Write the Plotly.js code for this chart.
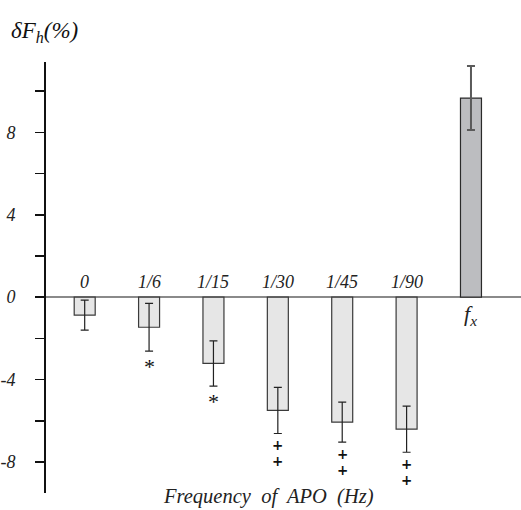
<!DOCTYPE html>
<html>
<head>
<meta charset="utf-8">
<script src="https://cdn.plot.ly/plotly-3.0.1.min.js"></script>
<style>html,body{margin:0;padding:0;background:#fff;}#chart{width:521px;height:510px;}</style>
</head>
<body>
<div id="chart"></div>
<script>
var categories = ['0', '1/6', '1/15', '1/30', '1/45', '1/90'];
var values = [-0.87, -1.46, -3.22, -5.5, -6.07, -6.41];
var errors = [0.73, 1.16, 1.1, 1.12, 0.97, 1.12];
var sigMarks = ['', '*', '*', '++', '++', '++'];
var fxLabel = 'f<sub>x</sub>';
var fxValue = [9.67];
var fxError = [1.55];
var yTickVals = [-8, -4, 0, 4, 8];
var yTickText = ['-8', '-4', '0', '4', '8'];
var yMinorVals = [-6, -2, 2, 6, 10];

var serif = '"Liberation Serif", serif';
var idx = categories.map(function (c, i) { return i; });
var fxIdx = [categories.length];

var traces = [
  {
    type: 'bar', x: idx, y: values, width: 0.326,
    marker: {color: '#e6e6e6', line: {color: '#3a3a3a', width: 1.2}},
    error_y: {type: 'data', array: errors, visible: true, color: '#222', thickness: 1.2, width: 4},
    hoverinfo: 'skip'
  },
  {
    type: 'bar', x: fxIdx, y: fxValue, width: 0.326,
    marker: {color: '#bcbdc0', line: {color: '#2a2a2a', width: 1.2}},
    error_y: {type: 'data', array: fxError, visible: true, color: '#5a5a5a', thickness: 2, width: 4},
    hoverinfo: 'skip'
  }
];

var annotations = [];
categories.forEach(function (c, i) {
  annotations.push({x: i, y: 0, xref: 'x', yref: 'y', text: c, showarrow: false,
    yanchor: 'bottom', yshift: 3, font: {family: serif, size: 18, style: 'italic', color: '#222'}});
  var m = sigMarks[i];
  for (var k = 0; k < m.length; k++) {
    var ch = m[k];
    var isStar = ch === '*';
    annotations.push({x: i, y: values[i] - errors[i], xref: 'x', yref: 'y', text: ch, showarrow: false,
      borderpad: 0, yanchor: 'middle', yshift: isStar ? -15 : -(12 + 16 * k),
      font: isStar ? {family: serif, size: 22, color: '#111'}
                   : {family: '"DejaVu Sans", sans-serif', size: 13.5, weight: 'bold', color: '#111'}});
  }
});
annotations.push({x: fxIdx[0], y: 0, xref: 'x', yref: 'y', text: fxLabel, showarrow: false,
  yanchor: 'top', yshift: -2, font: {family: serif, size: 22, style: 'italic', color: '#222'}});
annotations.push({x: 0.468, y: 0, xref: 'paper', yref: 'paper', text: 'Frequency  of  APO  (Hz)', showarrow: false,
  borderpad: 0, xanchor: 'center', yanchor: 'bottom', yshift: -16, font: {family: serif, size: 20.5, style: 'italic', color: '#222'}});
annotations.push({x: -0.078, y: 1, xref: 'paper', yref: 'paper', text: 'δF<sub>h</sub>(%)', showarrow: false,
  xanchor: 'left', yanchor: 'middle', yshift: 30, font: {family: serif, size: 23, style: 'italic', color: '#111'}});

var layout = {
  width: 521, height: 510,
  margin: {l: 46, r: 0, t: 62, b: 17},
  paper_bgcolor: '#fff', plot_bgcolor: '#fff',
  showlegend: false, barmode: 'overlay',
  xaxis: {range: [-0.601, 6.777], showgrid: false, zeroline: false, showline: false,
    showticklabels: false, ticks: '', fixedrange: true},
  yaxis: {range: [-9.51, 11.42], showgrid: false, zeroline: true, zerolinecolor: '#8a8a8a', zerolinewidth: 2,
    showline: true, linecolor: '#111', linewidth: 2, ticks: 'outside', ticklen: 9, tickwidth: 1.6, tickcolor: '#111',
    tickvals: yTickVals, ticktext: yTickText, ticklabelstandoff: 16,
    minor: {tickvals: yMinorVals, ticks: 'outside', ticklen: 9, tickwidth: 1.6, tickcolor: '#111', showgrid: false},
    tickfont: {family: serif, size: 18, style: 'italic', color: '#222'}},
  annotations: annotations
};

Plotly.newPlot('chart', traces, layout, {staticPlot: true, displayModeBar: false});
</script>
</body>
</html>
